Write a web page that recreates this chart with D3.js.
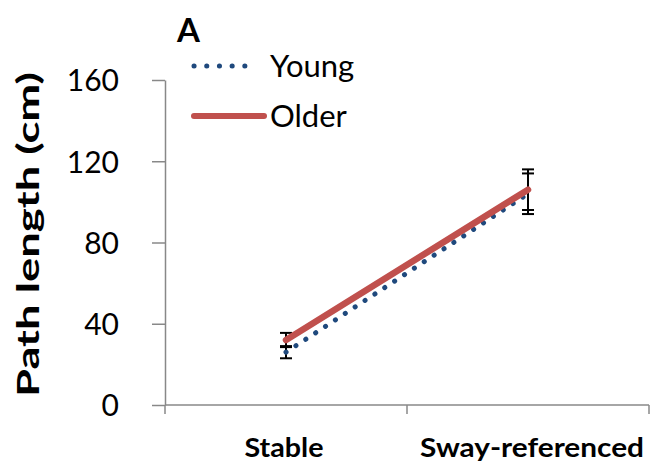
<!DOCTYPE html>
<html>
<head>
<meta charset="utf-8">
<script src="https://cdn.jsdelivr.net/npm/d3@7"></script>
<style>
  html, body { margin: 0; padding: 0; background: #fff; }
  svg { display: block; font-family: Lato, "Open Sans", sans-serif; }
</style>
</head>
<body>
<svg id="chart" width="650" height="464"></svg>
<script>
// Conditions and group means (cm) with error bars
const conditions = ["Stable", "Sway-referenced"];
const youngMeans = [26, 104];
const youngErr = [3, 10];
const olderMeans = [32, 106];
const olderErr = [3.5, 10];
const yTicks = [0, 40, 80, 120, 160];

const series = [
  { name: "Young", values: youngMeans, err: youngErr, color: "#1F497D", dotted: true },
  { name: "Older", values: olderMeans, err: olderErr, color: "#C0504D", dotted: false }
];

const svg = d3.select("#chart");
const margin = { left: 165, right: 0, top: 80, bottom: 59 };
const W = 650, H = 464;

const x = d3.scaleBand().domain(conditions).range([margin.left, W - 1]);
const y = d3.scaleLinear().domain([0, 160]).range([H - margin.bottom, margin.top]);

// Y axis
const yAxis = svg.append("g")
  .attr("transform", `translate(${margin.left},0)`)
  .call(d3.axisLeft(y).tickValues(yTicks).tickSize(13).tickPadding(33).tickSizeOuter(0));
yAxis.select(".domain").attr("stroke", "#888").attr("stroke-width", 1.5);
yAxis.selectAll(".tick line").attr("stroke", "#888").attr("stroke-width", 1.5);
yAxis.selectAll(".tick text").attr("font-size", 30).attr("fill", "#000")
  .attr("dy", "0.36em")
  .attr("font-family", "Lato, 'Open Sans', sans-serif");

// X axis with boundary ticks between categories
const xg = svg.append("g").attr("transform", `translate(0,${y(0)})`);
xg.append("line").attr("x1", margin.left).attr("x2", W - 1)
  .attr("stroke", "#888").attr("stroke-width", 1.5);
const bounds = [x.range()[0], ...conditions.map(c => x(c) + x.bandwidth())];
xg.selectAll("line.tk").data(bounds).join("line").attr("class", "tk")
  .attr("x1", d => d).attr("x2", d => d).attr("y1", 0).attr("y2", 9)
  .attr("stroke", "#888").attr("stroke-width", 1.5);
const xLabelWidth = { "Stable": 79, "Sway-referenced": 224 };
xg.selectAll("text").data(conditions).join("text")
  .attr("x", d => x(d) + x.bandwidth() / 2 - (d === "Stable" ? 2 : -4))
  .attr("y", 52)
  .attr("text-anchor", "middle")
  .attr("font-size", 26).attr("font-weight", "bold")
  .attr("textLength", d => xLabelWidth[d])
  .attr("lengthAdjust", "spacingAndGlyphs")
  .text(d => d);

// Y axis title
svg.append("text")
  .attr("transform", `translate(39,${(397 + 72) / 2}) rotate(-90)`)
  .attr("text-anchor", "middle")
  .attr("font-size", 31).attr("font-weight", "bold")
  .attr("textLength", 325)
  .attr("lengthAdjust", "spacingAndGlyphs")
  .text("Path length (cm)");

// Panel letter
svg.append("text").attr("x", 177).attr("y", 42)
  .attr("font-size", 33).attr("font-weight", "bold").text("A");

const cx = d => x(d) + x.bandwidth() / 2;

// Error bars
series.forEach(s => {
  const g = svg.append("g");
  conditions.forEach((c, i) => {
    const px = cx(c);
    const hi = y(s.values[i] + s.err[i]), lo = y(s.values[i] - s.err[i]);
    g.append("line").attr("x1", px).attr("x2", px).attr("y1", hi).attr("y2", lo)
      .attr("stroke", "#000").attr("stroke-width", 2);
    [hi, lo].forEach(v => g.append("line").attr("x1", px - 6).attr("x2", px + 6)
      .attr("y1", v).attr("y2", v).attr("stroke", "#000").attr("stroke-width", 2));
  });
});

// Lines
const line = d3.line().x((d, i) => cx(conditions[i])).y(d => y(d));
series.forEach(s => {
  const p = svg.append("path").datum(s.values)
    .attr("d", line).attr("fill", "none").attr("stroke", s.color)
    .attr("stroke-linecap", "round");
  if (s.dotted) p.attr("stroke-width", 5).attr("stroke-dasharray", "0.1 11.7");
  else p.attr("stroke-width", 6.5);
});

// Legend
const legY = [66, 116];
series.forEach((s, i) => {
  const l = svg.append("line").attr("x1", 194).attr("x2", s.dotted ? 257 : 264)
    .attr("y1", legY[i]).attr("y2", legY[i])
    .attr("stroke", s.color).attr("stroke-linecap", "round");
  if (s.dotted) l.attr("stroke-width", 5).attr("stroke-dasharray", "0.1 12.6");
  else l.attr("stroke-width", 6);
  svg.append("text").attr("x", 270).attr("y", legY[i] + 11)
    .attr("font-size", 31).text(s.name);
});
</script>
</body>
</html>
